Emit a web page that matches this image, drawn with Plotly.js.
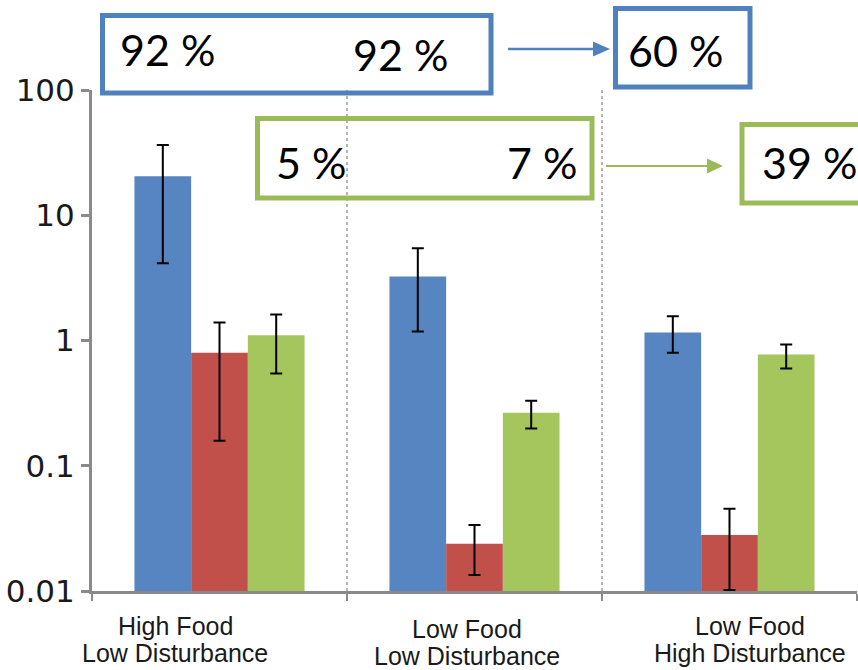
<!DOCTYPE html>
<html>
<head>
<meta charset="utf-8">
<script src="https://cdn.plot.ly/plotly-3.0.1.min.js"></script>
<style>html,body{margin:0;padding:0;background:#fff;}#chart{width:858px;height:670px;}</style>
</head>
<body>
<div id="chart"></div>
<script>
// ---- data ----
const categories = ['HF-LD', 'LF-LD', 'LF-HD'];
const catLine1 = ['High Food', 'Low Food', 'Low Food'];
const catLine2 = ['Low Disturbance', 'Low Disturbance', 'High Disturbance'];

const blueVals = [20.5, 3.25, 1.16];
const blueHigh = [36.3, 5.44, 1.56];
const blueLow  = [4.13, 1.18, 0.80];

const redVals = [0.80, 0.0238, 0.028];
const redHigh = [1.39, 0.0337, 0.0453];
const redLow  = [0.158, 0.0134, 0.0102];

const greenVals = [1.10, 0.265, 0.773];
const greenHigh = [1.61, 0.331, 0.929];
const greenLow  = [0.545, 0.198, 0.597];

const yTickVals = [0.01, 0.1, 1, 10, 100];
const yTickText = ['0.01', '0.1', '1', '10', '100'];

const blueShares  = ['92 %', '92 %', '60 %'];
const greenShares = ['5 %', '7 %', '39 %'];

// ---- styling / layout helpers ----
const W = 858, H = 670;
const L = 92, R = 857, T = 90, B = 591;
const X = px => (px - L) / (R - L);
const Y = py => (B - py) / (B - T);

const BLUE = '#5685c1', RED = '#c14f4a', GREEN = '#a5c65c';
const BLUE_LINE = '#4f81bd', GREEN_LINE = '#9bbb59';

function bar(vals, hi, lo, color) {
  return {
    type: 'bar', x: categories, y: vals,
    marker: {color: color, line: {width: 0}},
    error_y: {
      type: 'data', symmetric: false,
      array: vals.map((v, i) => hi[i] - v),
      arrayminus: vals.map((v, i) => v - lo[i]),
      color: '#000', thickness: 2, width: 6
    },
    hoverinfo: 'skip'
  };
}

const data = [
  bar(blueVals, blueHigh, blueLow, BLUE),
  bar(redVals, redHigh, redLow, RED),
  bar(greenVals, greenHigh, greenLow, GREEN)
];

function rect(x0, y0, x1, y1, color) {
  return {type: 'rect', xref: 'paper', yref: 'paper',
    x0: X(x0), x1: X(x1), y0: Y(y1), y1: Y(y0),
    line: {color: color, width: 5}, fillcolor: 'rgba(0,0,0,0)'};
}
function arrow(x0, x1, yy, head, hh, color, lw) {
  return [
    {type: 'line', xref: 'paper', yref: 'paper', x0: X(x0), x1: X(x1 - head + 1), y0: Y(yy), y1: Y(yy),
     line: {color: color, width: lw}},
    {type: 'path', xref: 'paper', yref: 'paper',
     path: 'M ' + X(x1 - head) + ' ' + Y(yy - hh / 2) + ' L ' + X(x1) + ' ' + Y(yy) + ' L ' + X(x1 - head) + ' ' + Y(yy + hh / 2) + ' Z',
     fillcolor: color, line: {color: color, width: 0}}
  ];
}

const shapes = [
  rect(102.5, 15.5, 491, 93, BLUE_LINE),
  rect(615.5, 8.5, 750, 87, BLUE_LINE),
  rect(257.5, 118.5, 592, 198, GREEN_LINE),
  rect(742, 124.5, 880, 203, GREEN_LINE)
].concat(arrow(508, 610, 49, 17, 15, BLUE_LINE, 2.5))
 .concat(arrow(606, 723, 166, 16, 15, GREEN_LINE, 2));

const pctFont = {family: 'Lato, "Open Sans", sans-serif', size: 43, color: '#000'};
function txt(t, px, py, font) {
  return {text: t, xref: 'paper', yref: 'paper', x: X(px), y: Y(py),
    xanchor: 'center', yanchor: 'middle', showarrow: false, font: font};
}
const annotations = [
  txt(blueShares[0], 167, 49, pctFont),
  txt(blueShares[1], 400, 54, pctFont),
  txt(blueShares[2], 675, 50, pctFont),
  txt(greenShares[0], 311, 162, pctFont),
  txt(greenShares[1], 542, 162, pctFont),
  txt(greenShares[2], 809, 162, pctFont)
];
const catFont = {family: '"Liberation Sans", Arial, sans-serif', size: 25, color: '#1a1a1a'};
const catX = [175, 467, 750];
const catY1 = [626, 629, 626];
const catY2 = [653, 656, 653];
for (let i = 0; i < categories.length; i++) {
  annotations.push(txt(catLine1[i], catX[i], catY1[i], catFont));
  annotations.push(txt(catLine2[i], catX[i], catY2[i], catFont));
}

const layout = {
  width: W, height: H,
  margin: {l: L, r: W - R, t: T, b: H - B, pad: 0},
  paper_bgcolor: '#fff', plot_bgcolor: '#fff',
  showlegend: false,
  barmode: 'group', bargap: 0.333, bargroupgap: 0,
  xaxis: {
    type: 'category', range: [-0.5, 2.5], tickson: 'boundaries',
    ticks: 'outside', ticklen: 7, tickwidth: 2.5, tickcolor: '#8a8a8a',
    showline: true, linewidth: 3, linecolor: '#8a8a8a',
    showgrid: true, gridcolor: '#b5b5b5', griddash: 'dot', gridwidth: 1.5,
    showticklabels: false, zeroline: false, fixedrange: true
  },
  yaxis: {
    type: 'log', range: [-2, 2],
    tickvals: yTickVals, ticktext: yTickText,
    ticks: 'outside', ticklen: 8, tickwidth: 3, tickcolor: '#8a8a8a',
    showline: true, linewidth: 3, linecolor: '#8a8a8a',
    showgrid: false, zeroline: false,
    tickfont: {family: '"DejaVu Sans", sans-serif', size: 31, color: '#1a1a1a'},
    fixedrange: true
  },
  shapes: shapes,
  annotations: annotations
};

Plotly.newPlot('chart', data, layout, {staticPlot: true, displayModeBar: false});
</script>
</body>
</html>
